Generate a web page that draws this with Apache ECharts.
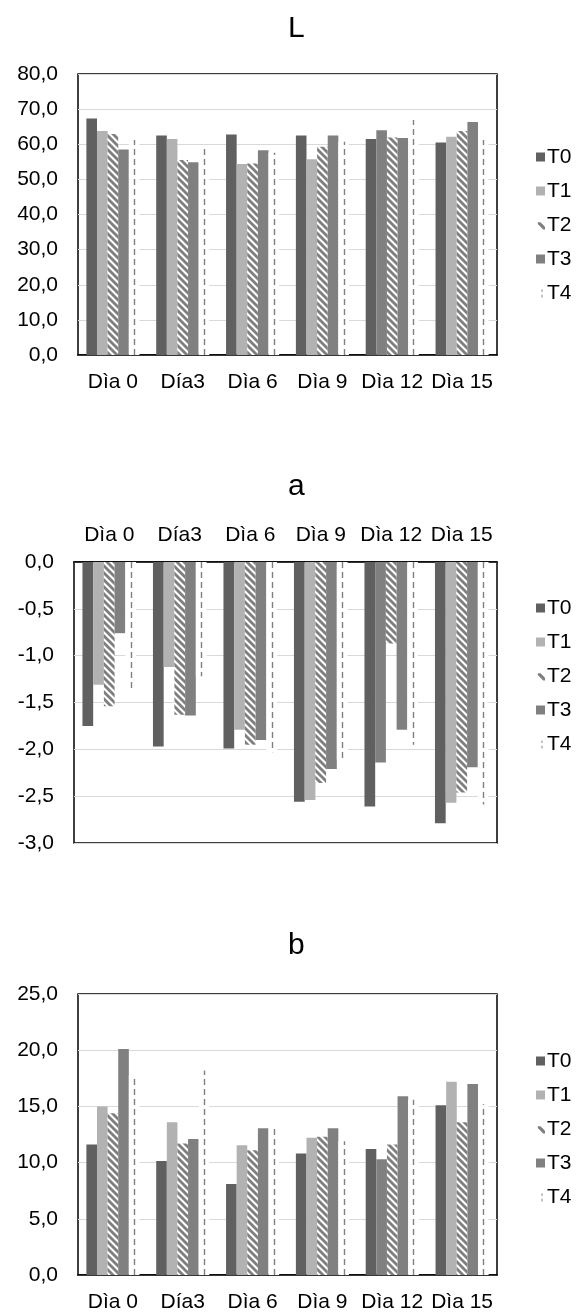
<!DOCTYPE html>
<html>
<head>
<meta charset="utf-8">
<script src="https://cdn.jsdelivr.net/npm/echarts@6/dist/echarts.min.js"></script>
<style>
html,body{margin:0;padding:0;background:#fff;}
#c{width:581px;height:1313px;}
</style>
</head>
<body>
<div id="c"></div>
<script>
// ---- data ----
const categories = ['Dìa 0', 'Día3', 'Dìa 6', 'Dìa 9', 'Dìa 12', 'Dìa 15'];
const seriesNames = ['T0', 'T1', 'T2', 'T3', 'T4'];
const chartTitles = ['L', 'a', 'b'];

const L_T0 = [67.3, 62.5, 62.8, 62.5, 61.5, 60.5];
const L_T1 = [63.8, 61.5, 54.4, 55.7, 64.0, 62.1];
const L_T2 = [62.9, 55.5, 54.5, 59.3, 61.9, 63.8];
const L_T3 = [58.5, 54.9, 58.3, 62.5, 61.8, 66.3];
const L_T4 = [61.2, 58.8, 57.6, 60.7, 66.9, 61.2];

const a_T0 = [-1.75, -1.97, -1.99, -2.56, -2.61, -2.79];
const a_T1 = [-1.31, -1.12, -1.79, -2.54, -2.14, -2.57];
const a_T2 = [-1.54, -1.63, -1.95, -2.36, -0.87, -2.46];
const a_T3 = [-0.76, -1.64, -1.90, -2.21, -1.79, -2.19];
const a_T4 = [-1.37, -1.22, -2.03, -2.12, -1.95, -2.59];

const b_T0 = [11.6, 10.15, 8.1, 10.8, 11.2, 15.1];
const b_T1 = [15.0, 13.6, 11.55, 12.2, 10.3, 17.2];
const b_T2 = [14.4, 11.7, 11.1, 12.3, 11.6, 13.6];
const b_T3 = [20.1, 12.1, 13.05, 13.05, 15.9, 17.0];
const b_T4 = [17.8, 18.2, 13.2, 11.9, 15.6, 15.2];

const yTicksL = {min: 0, max: 80, interval: 10};
const yTicksA = {min: -3, max: 0, interval: 0.5};
const yTicksB = {min: 0, max: 25, interval: 5};

// ---- styling / layout ----
const FONT = 'Liberation Sans, Arial, sans-serif';
const FS = 21;
const C_T0 = '#606060', C_T1 = '#b2b2b2', C_T3 = '#808080', C_STRIPE = '#7f7f7f';
const CAT_GAP = 0.24;
const ALT_T1_CAT = 'Dìa 12'; // this category's T1 bar drawn in T3 grey in the source

function stripeCanvas() {
  const s = 7, c = document.createElement('canvas');
  c.width = 2 * s; c.height = 2 * s;
  const g = c.getContext('2d');
  g.fillStyle = '#fff'; g.fillRect(0, 0, 2 * s, 2 * s);
  g.strokeStyle = C_STRIPE; g.lineWidth = 2.8;
  for (let k = -3; k <= 3; k++) {
    g.beginPath();
    g.moveTo(k * s - 3, -3);
    g.lineTo(k * s + 2 * s + 3, 2 * s + 3);
    g.stroke();
  }
  return c;
}
const stripe = {image: stripeCanvas(), repeat: 'repeat'};

const grids = [
  {left: 78, right: 84, top: 74, height: 281},
  {left: 74, right: 84, top: 562, height: 281},
  {left: 78, right: 84, top: 994, height: 281}
];
const dataSets = [
  [L_T0, L_T1, L_T2, L_T3, L_T4],
  [a_T0, a_T1, a_T2, a_T3, a_T4],
  [b_T0, b_T1, b_T2, b_T3, b_T4]
];
const ticks = [yTicksL, yTicksA, yTicksB];
const titleTops = [13.5, 472, 931];
const legendTops = [146.5, 597.5, 1050.5];

const fmt = v => v.toFixed(1).replace('.', ',');

const option = {
  animation: false,
  backgroundColor: '#fff',
  title: chartTitles.map((t, i) => ({
    text: t, left: 288, top: titleTops[i], padding: 0,
    textStyle: {fontFamily: FONT, fontSize: 30, fontWeight: 'normal', color: '#000'}
  })),
  grid: grids.map(g => Object.assign({show: true, borderColor: '#000', borderWidth: 1.5, backgroundColor: 'transparent'}, g)),
  xAxis: grids.map((g, i) => ({
    type: 'category', gridIndex: i, data: categories,
    position: i === 1 ? 'top' : 'bottom',
    axisLine: {show: true, onZero: false, lineStyle: {color: '#000', width: 1.5}},
    axisTick: {show: false},
    axisLabel: {fontFamily: FONT, fontSize: FS, color: '#000', margin: i === 1 ? 16 : 17, interval: 0}
  })),
  yAxis: grids.map((g, i) => ({
    type: 'value', gridIndex: i, min: ticks[i].min, max: ticks[i].max, interval: ticks[i].interval,
    axisLine: {show: false}, axisTick: {show: false},
    splitLine: {lineStyle: {color: '#d9d9d9', width: 1}},
    axisLabel: {fontFamily: FONT, fontSize: FS, color: '#000', margin: 20, formatter: fmt}
  })),
  legend: legendTops.map(t => ({
    orient: 'vertical', left: 536, top: t, padding: 0,
    itemWidth: 9, itemHeight: 9, itemGap: 13,
    textStyle: {fontFamily: FONT, fontSize: FS, color: '#000', padding: [0, 0, 0, -3]},
    selectedMode: false,
    data: [
      {name: 'T0', icon: 'rect', itemStyle: {color: C_T0}},
      {name: 'T1', icon: 'rect', itemStyle: {color: C_T1}},
      {name: 'T2', icon: 'path://M0,0 M10,10 M2,2 L5,2 L10,7 L10,10 L8,10 L2,4 Z', itemStyle: {color: C_STRIPE}},
      {name: 'T3', icon: 'rect', itemStyle: {color: C_T3}},
      {name: 'T4', icon: 'path://M0,0 M10,10 M6,1 L7.3,1 L7.3,4 L6,4 Z M6,7 L7.3,7 L7.3,10 L6,10 Z', itemStyle: {color: '#9a9a9a'}}
    ]
  })),
  series: []
};

dataSets.forEach((set, gi) => {
  const colors = [C_T0, C_T1, stripe, C_T3, '#ffffff'];
  set.forEach((vals, si) => {
    option.series.push({
      type: 'bar', name: seriesNames[si], xAxisIndex: gi, yAxisIndex: gi,
      barGap: '0%', barCategoryGap: (CAT_GAP * 100) + '%',
      itemStyle: {color: colors[si]},
      data: vals.map((v, ci) => (si === 1 && categories[ci] === ALT_T1_CAT)
        ? {value: v, itemStyle: {color: C_T3}} : v)
    });
  });
  // dashed centre line of the T4 bars
  const n = set.length;
  option.series.push({
    type: 'custom', name: 'T4 line', xAxisIndex: gi, yAxisIndex: gi, z: 3,
    data: set[4].map((v, ci) => [ci, v]),
    renderItem: function (params, api) {
      const ci = api.value(0), v = api.value(1);
      const base = api.coord([ci, 0]);
      const top = api.coord([ci, v]);
      const band = api.size([1, 0])[0];
      const w = band * (1 - CAT_GAP) / n;
      const x = Math.round(base[0] - n * w / 2 + (n - 0.5) * w) + 0.5;
      return {
        type: 'line',
        shape: {x1: x, y1: base[1], x2: x, y2: top[1]},
        style: {stroke: '#808080', lineWidth: 1.4, lineDash: [6, 4]}
      };
    }
  });
});

const chart = echarts.init(document.getElementById('c'), null, {renderer: 'canvas'});
chart.setOption(option);
</script>
</body>
</html>
